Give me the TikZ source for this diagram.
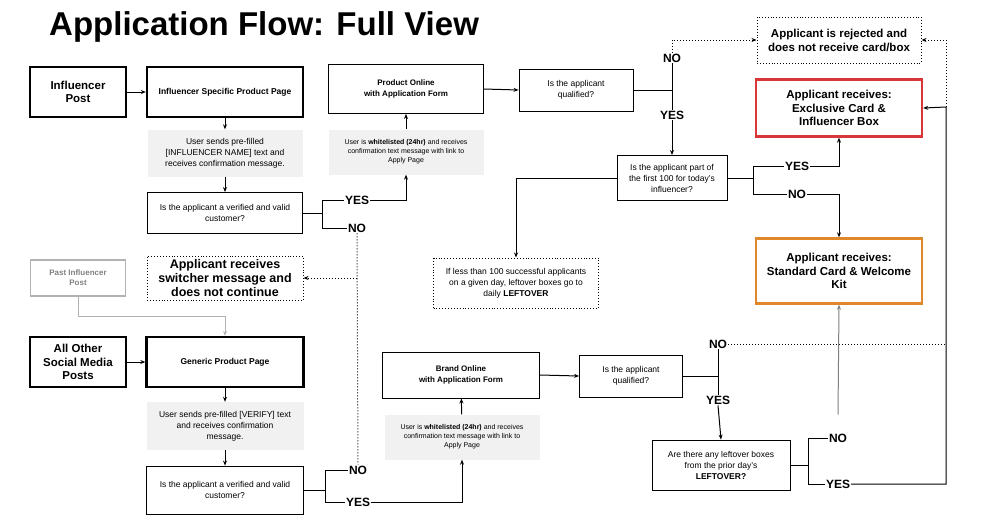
\documentclass[tikz,border=0pt]{standalone}
\usepackage{fontspec}
\setmainfont{Liberation Sans}
\usetikzlibrary{arrows.meta,positioning}
\definecolor{boxred}{HTML}{D9363A}
\definecolor{boxorange}{HTML}{E0862B}
\definecolor{greyfill}{HTML}{F1F1F1}
\tikzset{
        box/.style = {draw, rectangle, line width=0.9pt, align=center,
            inner sep=2pt, font=\fontsize{8.5}{11}\selectfont},
        heavy/.style = {box, line width=2.4pt, font=\bfseries\fontsize{8.5}{11}\selectfont},
        greybox/.style = {rectangle, fill=greyfill, align=center,
            inner sep=2pt, font=\fontsize{8.5}{11}\selectfont},
        dotbox/.style = {box, dotted, line width=1pt},
        result/.style = {box, line width=2.4pt, font=\bfseries\fontsize{11.5}{13.5}\selectfont},
        lbl/.style = {font=\bfseries\fontsize{12}{12}\selectfont, inner sep=1pt},
        arrow/.style = {draw, -{Stealth[length=5pt,width=4pt]}, line width=1pt},
        link/.style = {draw, line width=1pt},
    }
\begin{document}
\begin{tikzpicture}[x=1pt,y=-1pt]
    \useasboundingbox (0,0) rectangle (1000,520);
    \node[anchor=west, font=\bfseries\fontsize{33}{35}\selectfont, inner sep=0] (title) at (49,27) {Application Flow: Full View};

    % upper flow
    \node[heavy, minimum width=96, minimum height=50, font=\bfseries\fontsize{11.5}{13.5}\selectfont] (ip) at (78,92) {Influencer\\Post};
    \node[heavy, minimum width=156, minimum height=50] (isp) at (225,92) {Influencer Specific Product Page};
    \node[greybox, minimum width=155, minimum height=47] (g1) at (225,153) {User sends pre-filled\\{}[INFLUENCER NAME] text and\\receives confirmation message.};
    \node[box, minimum width=155, minimum height=41] (q1) at (225,213) {Is the applicant a verified and valid\\customer?};
    \node[lbl] (yes1) at (357,200) {YES};
    \node[lbl] (no1) at (357,228) {NO};
    \node[box, minimum width=155, minimum height=49, font=\bfseries\fontsize{8}{10.5}\selectfont] (po) at (406,89) {Product Online\\with Application Form};
    \node[greybox, minimum width=155, minimum height=45, font=\fontsize{7}{9}\selectfont] (w1) at (406,152) {User is \textbf{whitelisted (24hr)} and receives\\confirmation text message with link to\\Apply Page};
    \node[box, minimum width=114, minimum height=42] (qa1) at (576,90) {Is the applicant\\qualified?};
    \node[lbl] (no2) at (672,58) {NO};
    \node[lbl] (yes2) at (672,115) {YES};
    \node[box, minimum width=110, minimum height=45] (q2) at (672,178) {Is the applicant part of\\the first 100 for today's\\influencer?};
    \node[dotbox, minimum width=165, minimum height=50] (lo) at (516,283) {If less than 100 successful applicants\\on a given day, leftover boxes go to\\daily \textbf{LEFTOVER}};
    \node[dotbox, minimum width=164, minimum height=46, font=\bfseries\fontsize{11.5}{14}\selectfont] (rej) at (839,40) {Applicant is rejected and\\does not receive card/box};
    \node[result, draw=boxred, minimum width=166, minimum height=57] (red) at (839,108) {Applicant receives:\\Exclusive Card \&\\Influencer Box};
    \node[lbl] (yes3) at (797,166) {YES};
    \node[lbl] (no3) at (797,194) {NO};
    \node[result, draw=boxorange, minimum width=166, minimum height=65] (ora) at (839,271) {Applicant receives:\\Standard Card \& Welcome\\Kit};
    \node[dotbox, minimum width=156, minimum height=44, font=\bfseries\fontsize{12.5}{14}\selectfont] (sw) at (225,278) {Applicant receives\\switcher message and\\does not continue};

    % lower flow
    \node[box, draw=gray!60, line width=1.2pt, text=gray, minimum width=95, minimum height=36, font=\bfseries\fontsize{8}{10}\selectfont] (past) at (78,278) {Past Influencer\\Post};
    \node[heavy, minimum width=96, minimum height=50, font=\bfseries\fontsize{11.5}{13.5}\selectfont] (ao) at (78,362) {All Other\\Social Media\\Posts};
    \node[heavy, minimum width=157, minimum height=50] (gp) at (225,362) {Generic Product Page};
    \node[greybox, minimum width=157, minimum height=48] (g2) at (225,426) {User sends pre-filled [VERIFY] text\\and receives confirmation\\message.};
    \node[box, minimum width=157, minimum height=48] (q3) at (225,490) {Is the applicant a verified and valid\\customer?};
    \node[lbl] (no4) at (358,470) {NO};
    \node[lbl] (yes4) at (358,502) {YES};
    \node[box, minimum width=157, minimum height=46, font=\bfseries\fontsize{8}{10.5}\selectfont] (bo) at (461,375) {Brand Online\\with Application Form};
    \node[greybox, minimum width=155, minimum height=45, font=\fontsize{7}{9}\selectfont] (w2) at (462,437) {User is \textbf{whitelisted (24hr)} and receives\\confirmation text message with link to\\Apply Page};
    \node[box, minimum width=103, minimum height=42] (qa2) at (631,376) {Is the applicant\\qualified?};
    \node[lbl] (no5) at (718,344) {NO};
    \node[lbl] (yes5) at (718,400) {YES};
    \node[box, minimum width=138, minimum height=50] (q4) at (721,465) {Are there any leftover boxes\\from the prior day's\\\textbf{LEFTOVER?}};
    \node[lbl] (no6) at (838,438) {NO};
    \node[lbl] (yes6) at (838,484) {YES};

    \coordinate (b1) at (322,213);
    \coordinate (b2) at (672,90);
    \coordinate (b3) at (753,178);
    \coordinate (b4) at (325,490);
    \coordinate (b5) at (718,376);
    \coordinate (b6) at (808,465);
    \coordinate (rt) at (946,107);

    \path[arrow] (ip) -- (isp);
    \path[arrow] (isp) -- (g1);
    \path[arrow] (g1) -- (q1);
    \path[link] (q1.east) -- (b1) (b1 |- yes1) -- (b1 |- no1) (b1 |- yes1) -- (yes1.west) (b1 |- no1) -- (no1.west);
    \path[arrow] (yes1.east) -| (w1.south);
    \path[arrow] (w1) -- (po);
    \path[arrow] (po.east) -- (qa1.west);
    \path[link] (qa1.east) -- (b2) (no2.south) -- (yes2.north);
    \path[arrow, dotted] (no2.north) |- (rej.west);
    \path[arrow] (yes2.south) -- (q2.north);
    \path[arrow] (q2.west) -| (lo.north);
    \path[link] (q2.east) -- (b3) (b3 |- yes3) -- (b3 |- no3) (b3 |- yes3) -- (yes3.west) (b3 |- no3) -- (no3.west);
    \path[arrow] (yes3.east) -| (red.south);
    \path[arrow] (no3.east) -| (ora.north);
    \path[link, dotted] (no1.south) -- (no4.north);
    \path[arrow, dotted] (no1.south |- sw.east) -- (sw.east);

    \path[arrow, draw=gray!60] (past.south) -- ++(0,20) -| (gp.north);
    \path[arrow] (ao) -- (gp);
    \path[arrow] (gp) -- (g2);
    \path[arrow] (g2) -- (q3);
    \path[link] (q3.east) -- (b4) (b4 |- no4) -- (b4 |- yes4) (b4 |- no4) -- (no4.west) (b4 |- yes4) -- (yes4.west);
    \path[arrow] (yes4.east) -| (w2.south);
    \path[arrow] (w2) -- (bo);
    \path[arrow] (bo.east) -- (qa2.west);
    \path[link] (qa2.east) -- (b5) (no5.south) -- (yes5.north);
    \path[arrow] (yes5.south) -- (q4.north);
    \path[link, dotted] (no5.east) -- (no5.east -| rt);
    \path[link] (q4.east) -- (b6) (b6 |- no6) -- (b6 |- yes6) (b6 |- no6) -- (no6.west) (b6 |- yes6) -- (yes6.west);
    \path[arrow, draw=gray] (no6.north) ++(0,-18) -- (ora.south);
    \path[arrow] (yes6.east) -| (rt) -- (red.east);
    \path[arrow, dotted] (rt) |- (rej.east);
\end{tikzpicture}
\end{document}
